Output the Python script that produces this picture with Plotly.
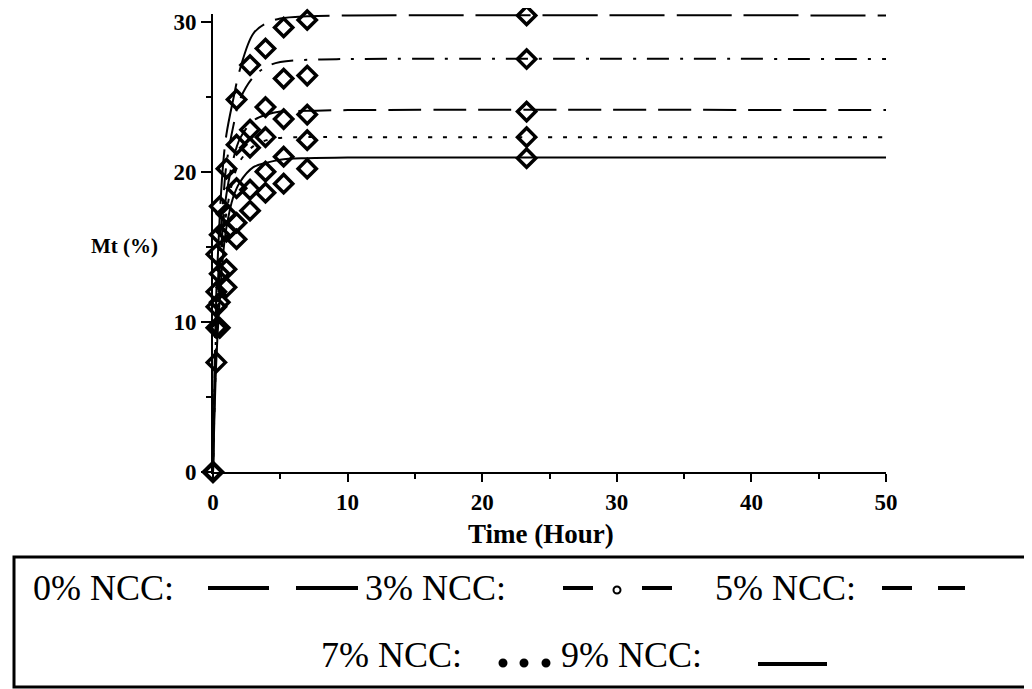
import plotly.graph_objects as go

# ---- data ----
series_names = ["0% NCC", "3% NCC", "5% NCC", "7% NCC", "9% NCC"]

# measured points (open diamonds)
t_meas = [0, 0.25, 0.5, 1, 1.75, 2.75, 3.9, 5.25, 7, 23.3]
m_0 = [0, 14.5, 17.7, 20.2, 24.8, 27.1, 28.2, 29.6, 30.1, 30.4]
m_3 = [0, 12.0, 15.8, 17.2, 21.8, 22.8, 24.3, 26.2, 26.4, 27.5]
m_5 = [0, 11.0, 13.2, 16.0, 18.9, 21.6, 22.3, 23.5, 23.8, 24.0]
m_7 = [0, 9.6, 11.3, 13.5, 16.6, 18.8, 20.0, 21.0, 22.1, 22.3]
m_9 = [0, 7.3, 9.6, 12.3, 15.5, 17.4, 18.6, 19.2, 20.2, 20.9]

# fitted curves (lines)
t_fit = [0, 0.1, 0.25, 0.5, 0.75, 1, 1.5, 2, 3, 4, 5, 7, 10, 50]
f_0 = [0, 6.0, 12.0, 17.0, 20.5, 22.5, 24.8, 26.8, 29.2, 29.9, 30.2, 30.35, 30.4, 30.4]
f_3 = [0, 5.0, 10.0, 15.0, 18.0, 20.5, 23.0, 24.8, 26.3, 27.0, 27.3, 27.45, 27.5, 27.5]
f_5 = [0, 4.5, 9.0, 13.5, 16.5, 18.5, 20.8, 22.2, 23.4, 23.8, 24.0, 24.05, 24.1, 24.1]
f_7 = [0, 4.0, 8.0, 12.5, 15.5, 17.3, 19.5, 20.7, 21.7, 22.1, 22.25, 22.3, 22.3, 22.3]
f_9 = [0, 3.5, 7.5, 11.5, 14.5, 16.3, 18.3, 19.3, 20.3, 20.6, 20.8, 20.9, 20.95, 20.95]

x_ticks = [0, 10, 20, 30, 40, 50]
y_ticks = [0, 10, 20, 30]

meas = [m_0, m_3, m_5, m_7, m_9]
fits = [f_0, f_3, f_5, f_7, f_9]
dashes = ["55px,12px", "22px,11px,3px,11px", "33px,12px", "4px,11px", "solid"]

fig = go.Figure()
for name, f, d in zip(series_names, fits, dashes):
    fig.add_trace(go.Scatter(x=t_fit, y=f, mode="lines", name=name,
                             line=dict(color="black", width=2, dash=d, shape="spline"),
                             showlegend=False, cliponaxis=False))
for name, m in zip(series_names, meas):
    fig.add_trace(go.Scatter(x=t_meas, y=m, mode="markers", name=name,
                             marker=dict(symbol="diamond-open", size=14, color="black",
                                         line=dict(width=3.5, color="black")),
                             showlegend=False, cliponaxis=False))

# page body has an 8px margin; positions below are given in reference pixels
OFFX, OFFY = 7, 8
L, R, T, B = 212 - OFFX, 885 - OFFX, 14 - OFFY, 472 - OFFY
W, H = R - L, B - T
def px(x):
    return (x - OFFX - L) / W
def py(y):
    return (B - (y - OFFY)) / H

tickfont = dict(family="Liberation Serif", size=23, color="black", weight="bold")
fig.update_layout(
    width=1032, height=689, autosize=False,
    margin=dict(l=L, r=1032 - R, t=T, b=689 - B),
    paper_bgcolor="white", plot_bgcolor="white",
    showlegend=False,
    xaxis=dict(range=[0, 50], tickvals=x_ticks, showgrid=False, zeroline=False,
               showline=True, linecolor="black", linewidth=2, automargin=False,
               ticks="outside", ticklen=8, tickwidth=2, tickcolor="black",
               minor=dict(dtick=5, ticks="outside", ticklen=5, tickwidth=2, tickcolor="black"),
               tickfont=tickfont),
    yaxis=dict(range=[0, 30.5], tickvals=y_ticks, showgrid=False, zeroline=False,
               showline=True, linecolor="black", linewidth=2, automargin=False,
               ticks="outside", ticklen=10, tickwidth=2, tickcolor="black",
               minor=dict(dtick=5, ticks="outside", ticklen=5, tickwidth=2, tickcolor="black"),
               tickfont=tickfont),
)

ann = []
ann.append(dict(text="Mt (%)", x=px(123), y=py(246), xref="paper", yref="paper",
                xanchor="center", yanchor="middle", showarrow=False,
                font=dict(family="Liberation Serif", size=21, color="black", weight="bold")))
ann.append(dict(text="Time (Hour)", x=px(540), y=py(534), xref="paper", yref="paper",
                xanchor="center", yanchor="middle", showarrow=False,
                font=dict(family="Liberation Serif", size=27, color="black", weight="bold")))

lf = dict(family="Liberation Serif", size=36, color="black")
row1, row2 = 588, 655
for txt, xl, yy in [("0% NCC:", 30, row1), ("3% NCC:", 362, row1), ("5% NCC:", 712, row1),
                    ("7% NCC:", 318, row2), ("9% NCC:", 558, row2)]:
    ann.append(dict(text=txt, x=px(xl), y=py(yy), xref="paper", yref="paper",
                    xanchor="left", yanchor="middle", showarrow=False, font=lf))

shapes = []
# legend frame
shapes.append(dict(type="rect", xref="paper", yref="paper", x0=px(13), x1=px(1050),
                   y0=py(687), y1=py(557), line=dict(color="black", width=3)))
def seg(x0, x1, y, w=4):
    shapes.append(dict(type="line", xref="paper", yref="paper", x0=px(x0), x1=px(x1),
                       y0=py(y), y1=py(y), line=dict(color="black", width=w)))
def dot(xc, yc, r, filled=True):
    shapes.append(dict(type="circle", xref="paper", yref="paper",
                       x0=px(xc - r), x1=px(xc + r), y0=py(yc + r), y1=py(yc - r),
                       line=dict(color="black", width=2),
                       fillcolor="black" if filled else "white"))
seg(207, 268, row1)
seg(295, 357, row1)
seg(562, 592, row1)
dot(616, row1 + 2, 3.5, filled=False)
seg(641, 671, row1)
seg(881, 911, row1)
seg(937, 964, row1)
for xc in (502, 523, 545):
    dot(xc, row2 + 8, 3.5)
seg(757, 826, row2 + 9)

fig.update_layout(annotations=ann, shapes=shapes)
fig.write_html("out.html")
